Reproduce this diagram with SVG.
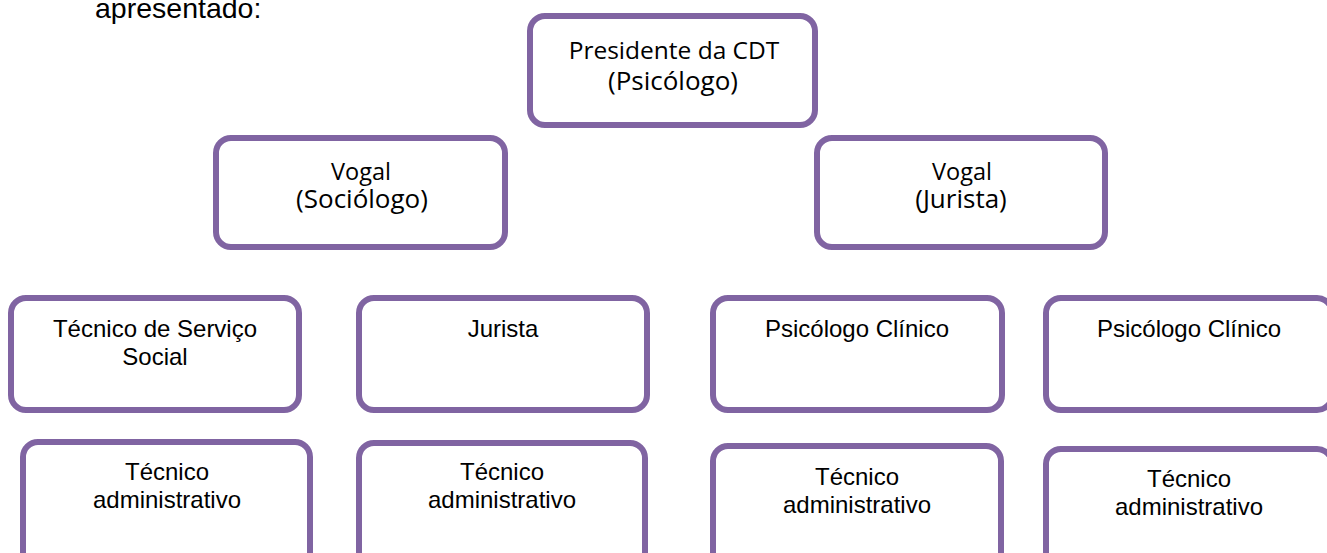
<svg xmlns="http://www.w3.org/2000/svg" width="1327" height="553" viewBox="0 0 1327 553">
<style>
.box{fill:#ffffff;stroke:#8064A2;stroke-width:6}
.c{font-family:"Open Sans","Noto Sans",sans-serif;fill:#000;text-anchor:middle}
.a{font-family:"Liberation Sans",Arial,sans-serif;font-size:24px;fill:#000;text-anchor:middle}
</style>
<rect width="1327" height="553" fill="#ffffff"/>
<text x="95" y="18" font-family="Liberation Sans, Arial, sans-serif" font-size="28.5" fill="#000">apresentado:</text>
<g id="connectors"></g>
<g id="presidente">
<rect class="box" x="530" y="16" width="285" height="109" rx="15"/>
<text class="c" x="674" y="59" font-size="24.5">Presidente da CDT</text>
<text class="c" x="673" y="90" font-size="26">(Psicólogo)</text>
</g>
<g id="vogal-sociologo">
<rect class="box" x="216" y="138" width="289" height="109" rx="15"/>
<text class="c" x="361" y="180" font-size="23.5">Vogal</text>
<text class="c" x="362" y="208" font-size="26">(Sociólogo)</text>
</g>
<g id="vogal-jurista">
<rect class="box" x="817" y="138" width="288" height="109" rx="15"/>
<text class="c" x="962" y="180" font-size="23.5">Vogal</text>
<text class="c" x="961" y="208" font-size="26">(Jurista)</text>
</g>
<g id="tecnico-servico-social">
<rect class="box" x="11" y="298" width="288" height="112" rx="15"/>
<text class="a" x="155" y="337">Técnico de Serviço</text>
<text class="a" x="155" y="365">Social</text>
</g>
<g id="jurista">
<rect class="box" x="359" y="298" width="288" height="112" rx="15"/>
<text class="a" x="503" y="337">Jurista</text>
</g>
<g id="psicologo-clinico-1">
<rect class="box" x="713" y="298" width="289" height="112" rx="15"/>
<text class="a" x="857" y="337">Psicólogo Clínico</text>
</g>
<g id="psicologo-clinico-2">
<rect class="box" x="1046" y="298" width="286" height="112" rx="15"/>
<text class="a" x="1189" y="337">Psicólogo Clínico</text>
</g>
<g id="tecnico-admin-1">
<rect class="box" x="23" y="442" width="287" height="125" rx="15"/>
<text class="a" x="167" y="480">Técnico</text>
<text class="a" x="167" y="508">administrativo</text>
</g>
<g id="tecnico-admin-2">
<rect class="box" x="359" y="443" width="286" height="125" rx="15"/>
<text class="a" x="502" y="480">Técnico</text>
<text class="a" x="502" y="508">administrativo</text>
</g>
<g id="tecnico-admin-3">
<rect class="box" x="713" y="446" width="288" height="125" rx="15"/>
<text class="a" x="857" y="485">Técnico</text>
<text class="a" x="857" y="513">administrativo</text>
</g>
<g id="tecnico-admin-4">
<rect class="box" x="1046" y="449" width="286" height="125" rx="15"/>
<text class="a" x="1189" y="487">Técnico</text>
<text class="a" x="1189" y="515">administrativo</text>
</g>
</svg>
